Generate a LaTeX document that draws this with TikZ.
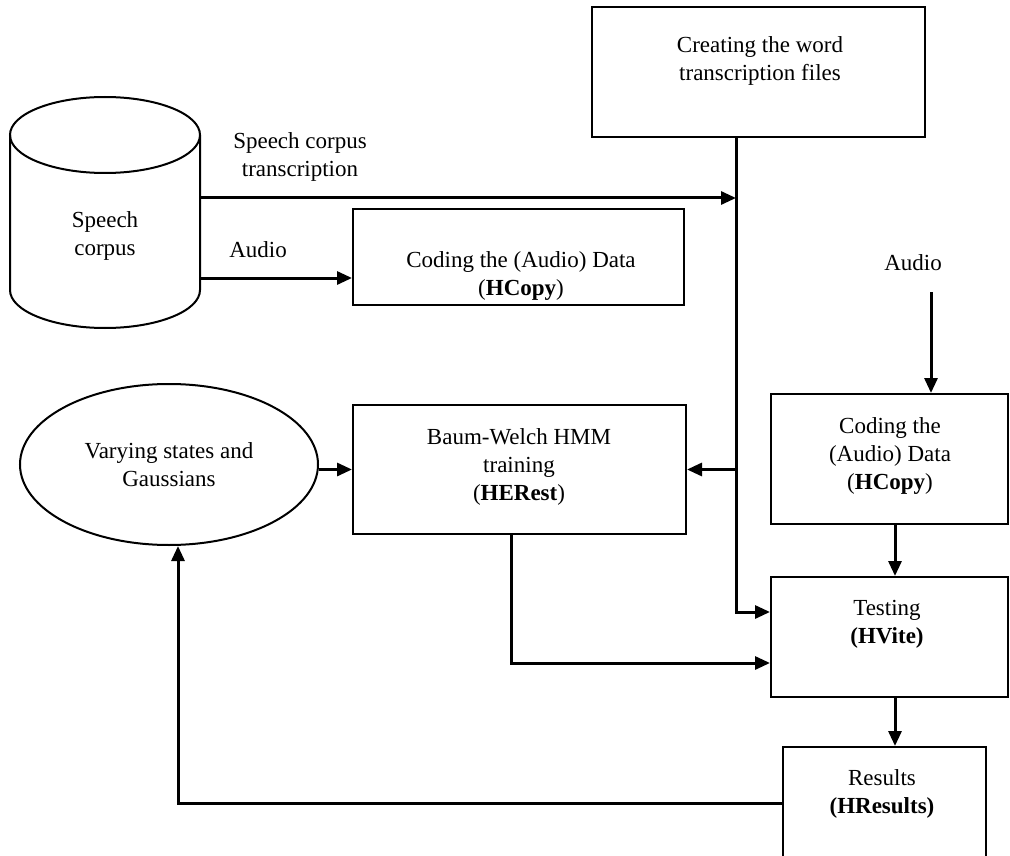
\documentclass[tikz,border=0pt]{standalone}
\usepackage{fontspec}
\setmainfont{Liberation Serif}
\usetikzlibrary{arrows.meta,shapes.geometric}
\begin{document}
\begin{tikzpicture}[x=1pt,y=-1pt,
  box/.style={draw, line width=2pt, inner sep=0pt},
  lbl/.style={align=center, inner sep=0pt, font=\fontsize{23}{28}\selectfont},
  conn/.style={line width=3pt, -{Triangle[length=15pt,width=13pt]}},
  outline/.style={line width=2pt}
]
\useasboundingbox (0,0) rectangle (1010,856);
\clip (0,0) rectangle (1010,856);

% speech corpus drum
\node[minimum width=190, minimum height=231, inner sep=0pt] (corpus) at (105,212.5) {};
\draw[outline] (10,135) -- (10,290) arc[start angle=180, end angle=0, x radius=95, y radius=38] -- (200,135);
\draw[outline] (105,135) ellipse[x radius=95, y radius=38];
\node[lbl] (corpus-t) at (105,236) {Speech\\corpus};

% process boxes
\node[box, minimum width=333, minimum height=130] (create) at (758.5,72) {};
\node[lbl] (create-t) at (760,61) {Creating the word\\transcription files};

\node[box, minimum width=331, minimum height=96] (coding1) at (518.5,257) {};
\node[lbl] (coding1-t) at (521,276) {Coding the (Audio) Data\\(\textbf{HCopy})};

\node[box, minimum width=333, minimum height=129] (herest) at (519.5,469.5) {};
\node[lbl] (herest-t) at (519,466.5) {Baum-Welch HMM\\training\\(\textbf{HERest})};

\node[box, minimum width=237, minimum height=130] (coding2) at (889.5,459) {};
\node[lbl] (coding2-t) at (890,456) {Coding the\\(Audio) Data\\(\textbf{HCopy})};

\node[box, minimum width=237, minimum height=120] (testing) at (889.5,637) {};
\node[lbl] (testing-t) at (887,624) {Testing\\\textbf{(HVite)}};

\node[box, minimum width=203, minimum height=133] (results) at (884.5,813.5) {};
\node[lbl] (results-t) at (882,794) {Results\\\textbf{(HResults)}};

\node[draw, ellipse, line width=2pt, minimum width=298, minimum height=161, inner sep=0pt, lbl] (vary) at (169,464.5) {Varying states and\\Gaussians};

% free labels
\node[lbl] (trans-t) at (300,156.5) {Speech corpus\\transcription};
\node[lbl] (audio1) at (258,250) {Audio};
\node[lbl] (audio2) at (913,263) {Audio};

% connectors
\coordinate (jT) at (736,198);
\coordinate (a2) at (931,292);
\draw[conn] (corpus.east |- jT) -- (jT);
\draw[conn] (create.south -| jT) |- (testing.west |- 0,612);
\draw[conn] (jT |- herest.east) -- (herest.east);
\draw[conn] (corpus.east |- 0,278) -- (coding1.west |- 0,278);
\draw[conn] (vary.east |- herest.west) -- (herest.west);
\draw[conn] (herest.south -| 511,0) |- (testing.west |- 0,663);
\draw[conn] (a2) -- (coding2.north -| a2);
\draw[conn] (coding2.south -| 895,0) -- (testing.north -| 895,0);
\draw[conn] (testing.south -| 895,0) -- (results.north -| 895,0);
\draw[conn] (results.west |- 0,803) -| (vary.south -| 178,0);
\end{tikzpicture}
\end{document}
